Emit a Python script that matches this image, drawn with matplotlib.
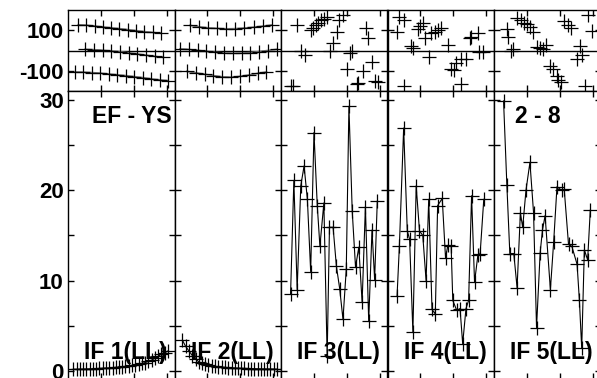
import matplotlib
matplotlib.use("Agg")
import matplotlib.pyplot as plt

plt.rcParams['font.family'] = ['Liberation Sans', 'DejaVu Sans']
plt.rcParams['font.weight'] = 'bold'

# ---- data ----
# top row, panels 1-2: three lines each
p1_x1 = [3.1, 5.6, 8.1, 10.6, 13.1, 15.6, 18.2, 20.7, 23.2, 25.7, 28.2]
p1_y1 = [127, 125, 121, 116, 112, 108, 103, 98, 93, 89, 85]
p1_x2 = [5.2, 7.8, 10.5, 13.1, 15.7, 18.4, 21.0, 23.6, 26.3, 28.9]
p1_y2 = [6, 4, 1, -2, -6, -11, -17, -23, -29, -34]
p1_x3 = [2.1, 4.7, 7.2, 9.8, 12.4, 14.9, 17.5, 20.1, 22.7, 25.2, 27.8, 30.4]
p1_y3 = [-106, -107, -109, -112, -116, -120, -124, -129, -134, -140, -145, -149]

p2_x1 = [4.7, 7.5, 10.2, 13.0, 15.7, 18.5, 21.2, 24.0, 26.7, 29.5]
p2_y1 = [124, 117, 112, 109, 107, 108, 111, 115, 120, 126]
p2_x2 = [1.7, 4.4, 7.0, 9.7, 12.4, 15.0, 17.7, 20.4, 23.0, 25.7, 28.3, 31.0]
p2_y2 = [8, 5, 1, -4, -9, -12, -14, -13, -10, -5, 0, 6]
p2_x3 = [3.7, 6.4, 9.1, 11.8, 14.5, 17.1, 19.8, 22.5, 25.2, 27.9]
p2_y3 = [-103, -110, -117, -124, -130, -132, -128, -121, -113, -106]

# top row, panels 3-5: scattered points
p3_x = [3.1, 3.7, 5.0, 6.0, 7.2, 9.0, 9.8, 10.5, 11.1, 12.1, 13.1, 14.1, 14.8, 15.9,
        16.9, 17.6, 18.9, 19.9, 20.9, 21.6, 23.0, 23.5, 25.0, 25.7, 26.5, 27.7, 28.6, 29.4]
p3_y = [-177, -173, 126, 0, -24, 102, 113, 124, 134, 150, 158, 166, -3, 35,
        92, 150, 173, -89, -13, 0, -166, -161, -100, 113, 60, -56, -150, -156]
p4_x = [2.8, 3.6, 4.9, 5.1, 7.1, 7.6, 9.1, 9.9, 10.7, 11.5, 12.7, 13.2, 14.4, 15.2,
        16.3, 18.3, 19.3, 20.1, 20.8, 22.2, 22.4, 23.9, 24.9, 25.4, 27.4, 27.9, 28.9]
p4_y = [89, 166, -173, 150, 21, 11, 108, 121, 134, 60, -32, 85, 92, 102,
        113, 27, -89, -97, -64, -166, -44, -44, 60, 65, 85, -5, -8]
p5_x = [3.8, 4.3, 5.3, 5.8, 7.1, 8.1, 9.1, 10.1, 10.8, 11.9, 12.9, 13.9, 14.9, 15.9,
        16.9, 17.9, 19.0, 19.5, 20.3, 21.3, 22.5, 23.5, 25.1, 26.1, 26.6, 27.6, 28.6, 29.6]
p5_y = [105, 65, 0, 5, 161, 150, 137, 129, 118, 92, 16, 11, 8, 27,
        -76, -92, -124, -145, -156, 145, 124, 113, -40, 21, -24, -177, 173, 97]

# bottom row: IF 1 .. IF 5
if1_x = [1.6, 2.6, 3.6, 4.6, 5.6, 6.6, 7.5, 8.5, 9.5, 10.5, 11.5, 12.5, 13.5, 14.5, 15.5,
         16.5, 17.4, 18.4, 19.4, 20.4, 21.4, 22.4, 23.4, 24.4, 25.4, 26.4, 27.3, 28.3, 29.3, 30.3]
if1_y = [0.18, 0.18, 0.19, 0.2, 0.21, 0.22, 0.24, 0.25, 0.27, 0.29,
         0.31, 0.33, 0.36, 0.39, 0.42, 0.45, 0.5, 0.55, 0.6, 0.66,
         0.73, 0.82, 0.92, 1.05, 1.2, 1.4, 1.6, 1.85, 2.0, 2.2]
if2_x = [2.4, 3.4, 4.4, 5.4, 6.4, 7.4, 8.3, 9.3, 10.3, 11.3, 12.3, 13.3, 14.3, 15.3, 16.3,
         17.3, 18.2, 19.2, 20.2, 21.2, 22.2, 23.2, 24.2, 25.2, 26.2, 27.2, 28.1, 29.1, 30.1, 31.1]
if2_y = [3.4, 2.7, 2.2, 1.7, 1.3, 1.0, 0.85, 0.72, 0.62, 0.55,
         0.5, 0.45, 0.42, 0.39, 0.36, 0.34, 0.32, 0.3, 0.28, 0.27,
         0.26, 0.25, 0.24, 0.23, 0.22, 0.21, 0.21, 0.2, 0.2, 0.19]
if3_x = [2.9, 3.9, 4.9, 6.0, 7.0, 8.0, 9.0, 10.0, 11.0, 11.8, 13.0, 14.0, 14.7, 15.8,
         16.8, 17.8, 18.8, 19.8, 20.6, 21.6, 22.6, 23.6, 24.6, 25.6, 26.6, 27.6, 28.4, 29.2]
if3_y = [8.5, 21.1, 9.0, 20.5, 22.7, 19.0, 11.0, 26.4, 18.3, 13.8, 18.6, 1.6, 15.9, 15.9,
         11.6, 9.1, 5.7, 11.3, 29.3, 17.7, 11.5, 13.7, 7.6, 18.2, 5.5, 15.6, 10.1, 18.8]
if4_x = [2.9, 3.6, 4.9, 6.0, 6.7, 7.7, 8.7, 9.7, 10.7, 11.7, 12.5, 13.5, 14.5, 15.2, 16.6,
         17.6, 18.3, 19.3, 19.8, 21.0, 22.0, 22.8, 23.8, 24.6, 25.5, 26.4, 27.4, 28.1, 29.2]
if4_y = [8.3, 13.8, 26.9, 15.5, 14.6, 4.3, 20.5, 15.5, 15.0, 10.0, 19.0, 6.8, 6.3, 18.3, 19.1,
         12.5, 13.9, 13.8, 7.8, 6.7, 6.9, 3.0, 6.9, 7.8, 19.4, 9.8, 12.8, 13.0, 19.0]
if5_x = [2.9, 3.9, 4.8, 6.0, 7.0, 8.0, 8.7, 9.7, 10.9, 12.0, 12.9, 14.0, 14.7, 15.5,
         17.1, 18.1, 19.1, 20.5, 21.3, 22.6, 23.6, 25.2, 25.9, 26.6, 27.4, 28.4, 29.2]
if5_y = [29.9, 20.6, 13.0, 13.0, 9.2, 17.5, 15.9, 20.0, 23.1, 17.5, 4.8, 13.1, 15.6, 17.2,
         9.0, 14.3, 20.4, 20.0, 20.1, 14.0, 13.8, 11.8, 7.8, 2.5, 13.4, 12.3, 17.8]

bottom_x = [if1_x, if2_x, if3_x, if4_x, if5_x]
bottom_y = [if1_y, if2_y, if3_y, if4_y, if5_y]
bottom_names = ["IF 1(LL)", "IF 2(LL)", "IF 3(LL)", "IF 4(LL)", "IF 5(LL)"]

# ---- figure ----
W, H = 597, 378
fig = plt.figure(figsize=(W / 100, H / 100), dpi=100)

left0 = 68
pw = 106.5
top_row = []
bot_row = []
for i in range(5):
    l = (left0 + i * pw) / W
    axt = fig.add_axes([l, (H - 91) / H, pw / W, 81 / H])
    axb = fig.add_axes([l, -1 / H, pw / W, 288 / H])
    top_row.append(axt)
    bot_row.append(axb)

mk = dict(marker='+', markersize=9.5, markeredgewidth=0.9, markeredgecolor='black')

# top row
for j, ax in enumerate(top_row):
    ax.axhline(0, color='black', lw=1.0, zorder=1)
    ax.set_xlim(0, 32.3)
    ax.set_ylim(-200, 200)
    ax.set_xticks([10, 20, 30])
    ax.set_yticks([-100, 100])
    ax.set_xticklabels([])
    if j == 0:
        ax.set_yticklabels(["-100", "100"])
    else:
        ax.set_yticklabels([])

top_row[0].plot(p1_x1, p1_y1, color='#777777', lw=1.2, **mk)
top_row[0].plot(p1_x2, p1_y2, color='#777777', lw=1.2, **mk)
top_row[0].plot(p1_x3, p1_y3, color='#777777', lw=1.2, **mk)
top_row[1].plot(p2_x1, p2_y1, color='#777777', lw=1.2, **mk)
top_row[1].plot(p2_x2, p2_y2, color='#777777', lw=1.2, **mk)
top_row[1].plot(p2_x3, p2_y3, color='#777777', lw=1.2, **mk)
top_row[2].plot(p3_x, p3_y, linestyle='none', **mk)
top_row[3].plot(p4_x, p4_y, linestyle='none', **mk)
top_row[4].plot(p5_x, p5_y, linestyle='none', **mk)

# bottom row
for j, ax in enumerate(bot_row):
    ax.plot(bottom_x[j], bottom_y[j], color='black', lw=0.8, **mk)
    ax.set_xlim(0, 32.3)
    ax.set_ylim(-0.9, 31)
    ax.set_xticks([10, 20, 30])
    ax.set_yticks([0, 5, 10, 15, 20, 25, 30])
    ax.set_xticklabels([])
    if j == 0:
        ax.set_yticklabels(["0", "", "10", "", "20", "", "30"])
    else:
        ax.set_yticklabels([])
    ax.text(0.54, 0.07, bottom_names[j], transform=ax.transAxes, ha='center',
            va='baseline', fontsize=16.5, fontweight='bold')

bot_row[0].text(0.225, 0.889, "EF - YS", transform=bot_row[0].transAxes,
                ha='left', va='baseline', fontsize=16.5, fontweight='bold')
bot_row[4].text(0.197, 0.889, "2 - 8", transform=bot_row[4].transAxes,
                ha='left', va='baseline', fontsize=16.5, fontweight='bold')

for ax in top_row + bot_row:
    ax.tick_params(direction='in', length=4.5, width=1, top=True, right=True,
                   labelsize=16, pad=3)
    for s in ax.spines.values():
        s.set_linewidth(1.0)
        s.set_color('black')

fig.savefig("out.png", dpi=100)
